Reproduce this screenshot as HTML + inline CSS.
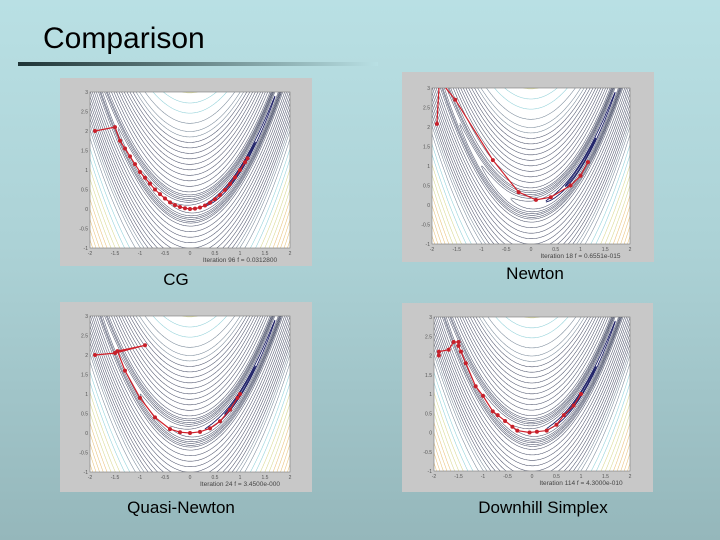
<!DOCTYPE html>
<html><head><meta charset="utf-8"><style>
html,body{margin:0;padding:0;overflow:hidden}
body{width:720px;height:540px;overflow:hidden;position:relative;background:linear-gradient(#b9e0e4 0%,#acd2d6 45%,#95b7bb 100%);font-family:"Liberation Sans",sans-serif}
.title{position:absolute;left:43px;top:22px;font-size:30px;color:#000}
.rule{position:absolute;left:18px;top:62px;width:360px;height:4px;background:linear-gradient(90deg,#1e3436,#5a7678 40%,#b9e0e4)}
.cap{position:absolute;font-size:17px;color:#000;text-align:center;width:252px;line-height:20px}
svg{position:absolute;left:0;top:0;display:block}
</style></head><body>
<div class="title">Comparison</div>
<div class="rule"></div>
<div class="cap" style="left:50px;top:270px">CG</div>
<div class="cap" style="left:409px;top:264px">Newton</div>
<div class="cap" style="left:55px;top:498px">Quasi-Newton</div>
<div class="cap" style="left:417px;top:498px">Downhill Simplex</div>
<svg id="s" width="720" height="540" xmlns="http://www.w3.org/2000/svg"></svg>
<script>
const xTicks=[-2,-1.5,-1,-0.5,0,0.5,1,1.5,2];
const yTicks=[-1,-0.5,0,0.5,1,1.5,2,2.5,3];
const cgX=[-1.9,-1.5,-1.4,-1.3,-1.2,-1.1,-1,-0.9,-0.8,-0.7,-0.6,-0.5,-0.4,-0.3,-0.2,-0.1,0,0.1,0.2,0.3,0.4,0.5,0.6,0.7,0.8,0.9,1,1.1,1.15];
const cgY=[2,2.1,1.75,1.55,1.35,1.15,0.95,0.8,0.65,0.5,0.38,0.27,0.17,0.1,0.05,0.02,0,0.01,0.04,0.09,0.16,0.25,0.36,0.49,0.64,0.81,1,1.2,1.3];
const nwX=[-1.9,-1.85,-1.53,-0.77,-0.25,0.1,0.4,0.8,1.0,1.15];
const nwY=[2.08,3.2,2.7,1.15,0.33,0.13,0.2,0.5,0.75,1.1];
const qnX=[-1.9,-1.5,-0.9,-1.45,-1.3,-1.0,-0.7,-0.4,-0.2,0,0.2,0.4,0.6,0.8,0.95,1];
const qnY=[2,2.05,2.25,2.1,1.6,0.9,0.4,0.1,0.02,0,0.03,0.12,0.3,0.6,0.9,1];
const dsX=[-1.9,-1.9,-1.7,-1.6,-1.5,-1.5,-1.45,-1.35,-1.15,-1,-0.8,-0.7,-0.55,-0.4,-0.3,-0.05,0.1,0.3,0.5,0.65,0.85,1];
const dsY=[2,2.1,2.15,2.35,2.35,2.25,2.1,1.8,1.2,0.95,0.55,0.45,0.3,0.15,0.05,0,0.02,0.05,0.2,0.45,0.7,1];
const panels=[
 {n:'cg',box:[60,78,252,188],pl:[90,92,290,248],xs:cgX,ys:cgY,cap:'Iteration 96  f = 0.0312800'},
 {n:'newton',box:[402,72,252,190],pl:[432,88,630,244],xs:nwX,ys:nwY,cap:'Iteration 18  f = 0.6551e-015'},
 {n:'quasi-newton',box:[60,302,252,190],pl:[90,316,290,472],xs:qnX,ys:qnY,cap:'Iteration 24  f = 3.4500e-000'},
 {n:'downhill-simplex',box:[402,303,251,189],pl:[434,317,630,471],xs:dsX,ys:dsY,cap:'Iteration 114  f = 4.3000e-010'}];
const NS='http://www.w3.org/2000/svg';
const svg=document.getElementById('s');
function mk(t,a,p){const e=document.createElementNS(NS,t);for(const k in a)e.setAttribute(k,a[k]);(p||svg).appendChild(e);return e;}
const levels=[0.1,0.5,2,4,6,8,11,14];
for(let r=0.45;r<=2.0;r+=0.14)levels.push(100*r*r);
for(let r=2.2;r<=5.2;r+=0.26)levels.push(100*r*r);
function col(c){if(c<1)return '#1c1f66';if(c<300)return '#50566e';if(c<520)return '#7a8a9a';if(c<780)return '#8fd0d8';if(c<1300)return '#d8d890';return '#e8c27a';}
panels.forEach((P,i)=>{
 const g=mk('g',{});
 
 
 const b=mk('rect',{x:P.box[0],y:P.box[1],width:P.box[2],height:P.box[3],fill:'#c8c8c8'},g);
 
 
 const [x0,y0,x1,y1]=P.pl;
 const sx=v=>x0+(v+2)/4*(x1-x0), sy=v=>y1-(v+1)/4*(y1-y0);
 const pa=mk('rect',{x:x0,y:y0,width:x1-x0,height:y1-y0,fill:'#fff'},g);
 
 
 const cid='clip'+i;const cp=mk('clipPath',{id:cid},g);mk('rect',{x:x0,y:y0,width:x1-x0,height:y1-y0},cp);
 const cg=mk('g',{'clip-path':'url(#'+cid+')'},g);
 
 
 levels.forEach(c=>{
  for(const s of [1,-1]){let d='';let on=false;
   for(let x=-2.05;x<=2.05;x+=0.01){const q=(c-(1-x)*(1-x))/100;
    if(q<0){on=false;continue;}
    const y=x*x+s*Math.sqrt(q);const px=sx(x).toFixed(1),py=sy(y).toFixed(1);
    d+=(on?'L':'M')+px+' '+py;on=true;}
   if(d){const p=mk('path',{d:d,fill:'none',stroke:col(c),'stroke-width':c<1?0.9:0.55},cg);
    
    }
  }});
 const ax=mk('rect',{x:x0,y:y0,width:x1-x0,height:y1-y0,fill:'none',stroke:'#777','stroke-width':0.6},g);
 
 
 xTicks.forEach(t=>{const e=mk('text',{x:sx(t),y:y1+7,'font-size':5,'text-anchor':'middle',fill:'#555'},g);e.textContent=t;
  
  });
 yTicks.forEach(t=>{const e=mk('text',{x:x0-2,y:sy(t)+2,'font-size':5,'text-anchor':'end',fill:'#555'},g);e.textContent=t;
  
  });
 const cap=mk('text',{x:x0+(x1-x0)*0.75,y:y1+14,'font-size':6.5,'text-anchor':'middle',fill:'#444'},g);cap.textContent=P.cap;
 
 
 const pts=P.xs.map((x,j)=>sx(x).toFixed(1)+','+sy(P.ys[j]).toFixed(1)).join(' ');
 const pl=mk('polyline',{points:pts,fill:'none',stroke:'#d0202a','stroke-width':1.2,'clip-path':'url(#'+cid+')'},g);
 
 
 P.xs.forEach((x,j)=>{const c=mk('circle',{cx:sx(x),cy:sy(P.ys[j]),r:2,fill:'#c8202a','clip-path':'url(#'+cid+')'},g);
  
  });
});
</script>
</body></html>
